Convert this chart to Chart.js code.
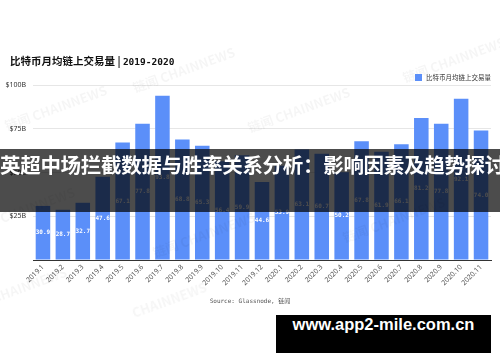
<!DOCTYPE html>
<html>
<head>
<meta charset="utf-8">
<script src="https://cdn.jsdelivr.net/npm/chart.js@4"></script>
<style>
  html, body { margin:0; padding:0; background:#fff; }
  #wrap { position:relative; width:500px; height:362px; overflow:hidden; background:#fff; }
  #c { position:absolute; left:0; top:0; }
  .title { position:absolute; left:10px; top:53px; font:bold 10.5px "Noto Sans CJK SC", sans-serif; color:#111; white-space:nowrap; }
  .title .num { font-family:"DejaVu Sans Mono", monospace; font-weight:bold; font-size:9.5px; }
  .legend { position:absolute; left:415px; top:72px; font:6.5px "Noto Sans CJK SC", sans-serif; color:#333; white-space:nowrap; }
  .legend i { display:inline-block; width:7px; height:7px; background:#5b8ff9; vertical-align:-1px; margin-right:4px; }
  .source { position:absolute; left:0; width:500px; top:296px; text-align:center; font:6px "DejaVu Sans Mono", "Noto Sans CJK SC", monospace; color:#555; }
  .banner { position:absolute; left:0; top:149px; width:500px; height:63px; background:rgba(0,0,0,0.7); color:#fff; text-align:center; line-height:63px; font:bold 20.5px "Noto Sans CJK SC", sans-serif; white-space:nowrap; letter-spacing:-0.3px; }
  .site { position:absolute; left:276px; top:315px; width:215px; height:38px; background:#000; color:#fff; text-align:center; line-height:38px; font:bold 16.5px "Liberation Sans", Arial, sans-serif; }
  .wm { position:absolute; font:bold 13px "Noto Sans CJK SC", sans-serif; color:rgba(0,0,0,0.04); transform:rotate(-20deg); white-space:nowrap; }
</style>
</head>
<body>
<div id="wrap">
  <canvas id="c" width="500" height="362"></canvas>
  <div class="wm" style="left:2px;top:98px;">链闻 CHAINNEWS</div>
  <div class="wm" style="left:130px;top:60px;">链闻 CHAINNEWS</div>
  <div class="wm" style="left:245px;top:100px;">链闻 CHAINNEWS</div>
  <div class="wm" style="left:400px;top:50px;">链闻 CHAINNEWS</div>
  <div class="wm" style="left:-30px;top:200px;">链闻 CHAINNEWS</div>
  <div class="wm" style="left:150px;top:225px;">链闻 CHAINNEWS</div>
  <div class="wm" style="left:340px;top:210px;">链闻 CHAINNEWS</div>
  <div class="wm" style="left:-10px;top:275px;">CHAINNEWS</div>
  <div class="wm" style="left:130px;top:290px;">CHAINNEWS</div>
  <div class="title">比特币月均链上交易量 | <span class="num">2019-2020</span></div>
  <div class="legend"><i></i>比特币月均链上交易量</div>
  <div class="source">Source: Glassnode, 链闻</div>
  <div class="banner">英超中场拦截数据与胜率关系分析：影响因素及趋势探讨</div>
  <div class="site">www.app2-mile.com.cn</div>
</div>
<script>
const months = ["2019.1","2019.2","2019.3","2019.4","2019.5","2019.6","2019.7","2019.8","2019.9","2019.10","2019.11","2019.12",
                "2020.1","2020.2","2020.3","2020.4","2020.5","2020.6","2020.7","2020.8","2020.9","2020.10","2020.11"];
const volumes = [30.9,28.7,32.7,47.6,67.1,77.8,93.8,68.8,65.3,56.4,59.9,44.6,
                 53.9,63.1,60.7,50.2,67.8,61.9,66.1,81.2,77.8,92.1,74.0];
const yTicks = [0,25,50,75,100];
const seriesName = "比特币月均链上交易量";

const valueLabels = {
  id: 'valueLabels',
  afterDatasetsDraw(chart) {
    const ctx = chart.ctx;
    const meta = chart.getDatasetMeta(0);
    ctx.save();
    ctx.fillStyle = '#fff';
    ctx.font = 'bold 6px "DejaVu Sans Mono", monospace';
    ctx.textAlign = 'center';
    ctx.textBaseline = 'middle';
    meta.data.forEach((bar, i) => {
      ctx.fillText(volumes[i].toFixed(1), bar.x, (bar.y + bar.base) / 2);
    });
    ctx.restore();
  }
};

new Chart(document.getElementById('c'), {
  type: 'bar',
  data: {
    labels: months,
    datasets: [{
      label: seriesName,
      data: volumes,
      backgroundColor: '#5b8ff9',
      borderWidth: 0,
      barPercentage: 0.73,
      categoryPercentage: 1
    }]
  },
  options: {
    responsive: false,
    animation: false,
    layout: { padding: { top: 85, right: 9, left: 0, bottom: 0 } },
    plugins: { legend: { display: false }, tooltip: { enabled: false } },
    scales: {
      x: {
        afterFit(s) { s.height = 102; },
        grid: { display: false, drawTicks: false },
        border: { display: true, color: '#333', width: 1 },
        ticks: { maxRotation: 45, minRotation: 45, padding: 3, color: '#555',
                 font: { size: 7, family: '"Noto Sans", sans-serif' } }
      },
      y: {
        min: 0, max: 100,
        afterFit(s) { s.width = 33; },
        afterBuildTicks(s) { s.ticks = yTicks.map(v => ({ value: v })); },
        grid: { drawTicks: false, color: ctx => ctx.tick && ctx.tick.value === 0 ? 'rgba(0,0,0,0)' : '#e6e6e6' },
        border: { display: false },
        ticks: { padding: 7, color: '#333', font: { size: 7, family: '"Noto Sans", sans-serif' },
                 callback: v => v === 0 ? '' : '$' + v + 'B' }
      }
    }
  },
  plugins: [valueLabels]
});
</script>
</body>
</html>
